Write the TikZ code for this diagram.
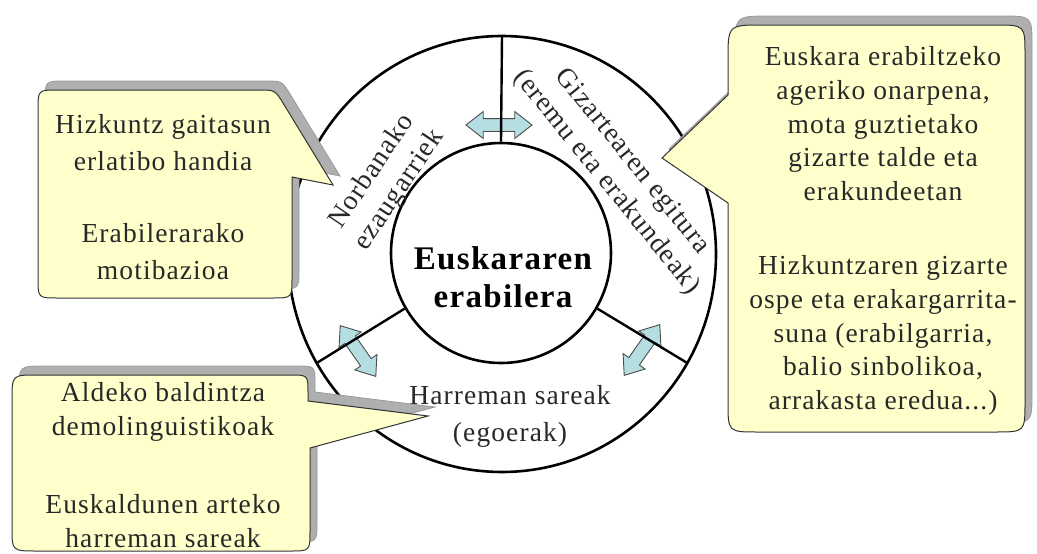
\documentclass[tikz,border=0pt]{standalone}
\usepackage{fontspec}
\setmainfont{Liberation Serif}[LetterSpace=4]
\usetikzlibrary{shapes.arrows}
\definecolor{callfill}{RGB}{255,255,204}
\definecolor{shadowgray}{RGB}{175,175,175}
\definecolor{arrowblue}{RGB}{180,222,226}
\definecolor{txt}{RGB}{40,40,40}
\tikzset{
  ring/.style={line width=2.6pt},
  divider/.style={line width=2.4pt},
  darrow/.style={double arrow, draw=black!70, line width=0.9pt, fill=arrowblue,
    minimum height=66pt, minimum width=26pt, double arrow head extend=7pt,
    double arrow tip angle=76, inner xsep=0pt, inner ysep=6pt},
  callout/.style={fill=callfill, draw=black!80, line width=1pt},
  calloutshadow/.style={fill=shadowgray, draw=black!40, line width=0.8pt, shift={(7,-9)}},
  ringtext/.style={text=txt, font=\fontsize{27.5}{33}\selectfont, align=center, inner sep=0pt},
  calltext/.style={text=txt, align=center, inner sep=0pt},
  pathLT/.style={insert path={(58,90) -- (258,90) .. controls (275,90) .. (283,103) -- (333,185)
     -- (292,177) -- (292,278) .. controls (292,298) .. (272,298) -- (58,298)
     .. controls (38,298) .. (38,278) -- (38,110) .. controls (38,90) .. (58,90) -- cycle}},
  pathLB/.style={insert path={(37,375) -- (290,375) .. controls (308,375) .. (308,393) -- (308,401)
     -- (428,416) -- (310,448) -- (310,531) .. controls (310,551) .. (290,551) -- (37,551)
     .. controls (12,551) .. (12,528) -- (12,400) .. controls (12,375) .. (37,375) -- cycle}},
  pathR/.style={insert path={(763,25) -- (995,25) .. controls (1025,25) .. (1025,55) -- (1025,402)
     .. controls (1025,432) .. (995,432) -- (758,432) .. controls (728,432) .. (728,402)
     -- (728,203) -- (662,158) -- (728,95) -- (728,60) .. controls (728,25) .. (763,25) -- cycle}},
}
\begin{document}
\begin{tikzpicture}[x=1pt,y=-1pt]
\useasboundingbox (0,0) rectangle (1037,554);
\fill[white] (0,0) rectangle (1037,554);

% ring
\coordinate (C) at (502,254);
\draw[ring] (C) ellipse [x radius=214, y radius=218];
\node[draw, circle, ring, minimum size=220pt, inner sep=0pt] (core) at (501,253) {};
\node[font=\bfseries\fontsize{33}{38}\selectfont, align=center, inner sep=0pt] (title) at (503,277) {Euskararen\\erabilera};

% arrows
\node[darrow] (a1) at (499,125) {};
\node[darrow, rotate=-55, minimum height=62pt] (a2) at (358,351) {};
\node[darrow, rotate=55, minimum height=62pt] (a3) at (642,350) {};

% dividers
\coordinate (o90) at (502,36);
\coordinate (o210) at (316.7,363);
\coordinate (o330) at (687.3,363);
\draw[divider] (core.90) -- (o90);
\draw[divider] (core.210) -- (o210);
\draw[divider] (core.330) -- (o330);

% ring texts
\node[ringtext, rotate=56] (norb) at (386,181) {Norbanako\\ezaugarriek};
\node[ringtext, rotate=-51] (giz) at (619,172) {Gizartearen egitura\\(eremu eta erakundeak)};
\node[ringtext, font=\fontsize{27.5}{37}\selectfont] (harr) at (510,416) {Harreman sareak\\(egoerak)};

% callouts
\path[calloutshadow, pathLT];
\path[callout, pathLT];
\path[calloutshadow, pathLB];
\path[callout, pathLB];
\path[calloutshadow, pathR];
\path[callout, pathR];

\node[calltext, font=\fontsize{27.5}{36.7}\selectfont] (tLT) at (163,197)
  {Hizkuntz gaitasun\\erlatibo handia\\[36pt]Erabilerarako\\motibazioa};
\node[calltext, font=\fontsize{27.5}{34}\selectfont] (tLB) at (163,465)
  {Aldeko baldintza\\demolinguistikoak\\[44pt]Euskaldunen arteko\\harreman sareak};
\node[calltext, font=\fontsize{27.5}{33.8}\selectfont] (tR) at (883,231)
  {Euskara erabiltzeko\\ageriko onarpena,\\mota guztietako\\gizarte talde eta\\erakundeetan\\[40pt]Hizkuntzaren gizarte\\ospe eta erakargarrita-\\suna (erabilgarria,\\balio sinbolikoa,\\arrakasta eredua...)};
\end{tikzpicture}
\end{document}
